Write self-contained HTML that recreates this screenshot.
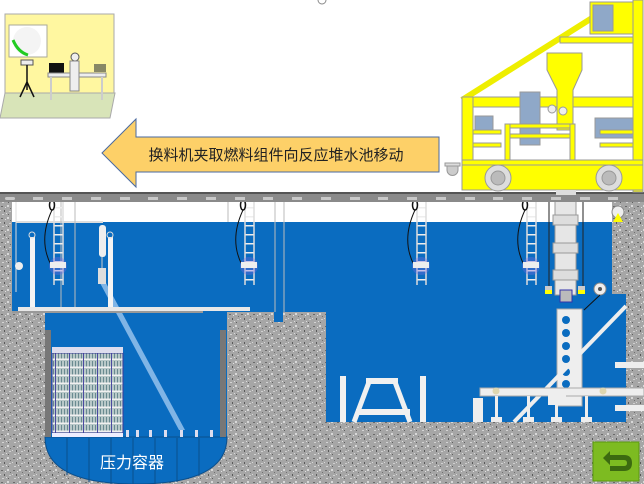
<!DOCTYPE html>
<html><head><meta charset="utf-8"><style>
html,body{margin:0;padding:0;background:#fff;width:644px;height:484px;overflow:hidden}
svg{display:block}
text{font-family:"Liberation Sans","Noto Sans CJK SC",sans-serif}
</style></head><body>
<svg width="644" height="484" viewBox="0 0 644 484" xmlns="http://www.w3.org/2000/svg">
<defs>
<pattern id="conc" width="12" height="12" patternUnits="userSpaceOnUse">
<rect width="12" height="12" fill="#a6a6a6"/>
<rect x="1" y="2" width="2" height="1" fill="#6a6a6a"/><rect x="7" y="1" width="2" height="2" fill="#d8d8d8"/>
<rect x="4" y="6" width="1" height="2" fill="#5a5a5a"/><rect x="9" y="7" width="2" height="1" fill="#cfcfcf"/>
<rect x="2" y="10" width="2" height="1" fill="#d4d4d4"/><rect x="8" y="10" width="1" height="1" fill="#606060"/>
<rect x="5" y="3" width="1" height="1" fill="#e0e0e0"/><rect x="0" y="6" width="1" height="1" fill="#d8d8d8"/>
<rect x="10" y="4" width="1" height="1" fill="#707070"/><rect x="6" y="9" width="1" height="1" fill="#dcdcdc"/>
</pattern>
<pattern id="rungs" width="8" height="9" patternUnits="userSpaceOnUse"><rect width="8" height="9" fill="none"/><rect y="0" width="8" height="1.5" fill="#eee"/></pattern>
<pattern id="fuel" width="14" height="8" patternUnits="userSpaceOnUse"><rect width="14" height="8" fill="#b8c8c8"/><rect x="2" y="1" width="1" height="6" fill="#6a8a90"/><rect x="5" y="1" width="1" height="6" fill="#6a8a90"/><rect x="8" y="1" width="1" height="6" fill="#6a8a90"/><rect x="11" y="1" width="1" height="6" fill="#6a8a90"/><rect y="6.5" width="14" height="1.5" fill="#f0f0f0"/><rect x="13" width="1" height="8" fill="#4a4aa0"/></pattern>
</defs>
<!-- concrete -->
<rect x="0" y="195" width="644" height="289" fill="url(#conc)"/>
<!-- air gap -->
<rect x="12" y="202" width="600" height="21" fill="#fff"/>
<!-- water -->
<path d="M12 222 H612 V294 H626 V422 H326 V312 H283 V322 H274 V312 H12 Z" fill="#0a6cc0"/>
<path d="M45 310 H227 V437 Q227 484 136 484 Q45 484 45 437 Z" fill="#0a6cc0"/>
<path d="M45 437 H227 Q227 484 136 484 Q45 484 45 437 Z" fill="#0a6cc0" stroke="#0b4f8c" stroke-width="1"/>
<g stroke="#0b4f8c" stroke-width="1"><line x1="67" y1="438" x2="67" y2="475"/><line x1="89" y1="438" x2="89" y2="482"/><line x1="111" y1="438" x2="111" y2="484"/><line x1="133" y1="438" x2="133" y2="484"/><line x1="155" y1="438" x2="155" y2="484"/><line x1="177" y1="438" x2="177" y2="482"/><line x1="199" y1="438" x2="199" y2="476"/></g>
<rect x="45" y="330" width="6" height="107" fill="#777"/>
<rect x="220" y="330" width="6" height="107" fill="#777"/>
<!-- core -->
<rect x="52" y="353" width="71" height="80" fill="url(#fuel)" stroke="#3a3a9a"/>
<rect x="52" y="347" width="71" height="6" fill="#dde"/>
<rect x="52" y="433" width="71" height="4" fill="#eef"/>
<g fill="#dde"><rect x="126" y="430" width="3" height="7"/><rect x="136" y="430" width="3" height="7"/><rect x="149" y="430" width="3" height="7"/><rect x="164" y="430" width="3" height="7"/><rect x="180" y="430" width="3" height="7"/><rect x="195" y="430" width="3" height="7"/><rect x="210" y="430" width="3" height="7"/></g>
<text x="132" y="468" font-size="16" fill="#fff" text-anchor="middle">压力容器</text>
<!-- beam -->
<polygon points="100,283 106,283 185,430 179,430" fill="#cfe6ff" opacity="0.6"/>
<!-- ledge -->
<rect x="18" y="307" width="232" height="4" fill="#e8e8e8"/>
<rect x="12" y="311" width="191" height="2" fill="#999"/>
<!-- posts left -->
<rect x="30" y="237" width="5" height="70" fill="#f4f4f4"/><circle cx="32" cy="235" r="3" fill="none" stroke="#ddd"/>
<rect x="108" y="237" width="5" height="70" fill="#f4f4f4"/><circle cx="110" cy="235" r="3" fill="none" stroke="#ddd"/>
<line x1="16" y1="202" x2="16" y2="292" stroke="#ddd"/><circle cx="19" cy="266" r="4" fill="#eee"/>
<line x1="16" y1="222" x2="103" y2="222" stroke="#ddd" stroke-width="2"/>
<rect x="99" y="225" width="7" height="32" rx="3" fill="#eee"/>
<line x1="102" y1="257" x2="102" y2="268" stroke="#ccc"/>
<rect x="98" y="268" width="8" height="16" fill="#ddd"/>
<g stroke="#bbb" stroke-width="1"><line x1="75" y1="202" x2="75" y2="307"/><line x1="61" y1="202" x2="61" y2="307"/><line x1="228" y1="202" x2="228" y2="222"/><line x1="275" y1="202" x2="275" y2="312"/><line x1="284" y1="202" x2="284" y2="312"/></g>
<!-- ladders & lamps -->
<g id="lad">
<rect x="54" y="202" width="9" height="83" fill="url(#rungs)"/>
<line x1="54" y1="202" x2="54" y2="285" stroke="#ddd" stroke-width="1.5"/><line x1="63" y1="202" x2="63" y2="285" stroke="#ddd" stroke-width="1.5"/>
<ellipse cx="52" cy="205" rx="2.5" ry="5" fill="none" stroke="#111" stroke-width="1.5"/>
<path d="M52 210 Q38 240 51 265" fill="none" stroke="#111"/>
<circle cx="58" cy="266" r="9" fill="#7a6ae0" opacity="0.35"/>
<rect x="50" y="262" width="16" height="6" fill="#eee"/>
</g>
<use href="#lad" x="191"/><use href="#lad" x="363"/><use href="#lad" x="473"/>
<!-- mast -->
<rect x="555" y="195" width="21" height="100" fill="#e6e6e6" stroke="#999"/>
<g fill="#ddd" stroke="#999"><rect x="553" y="215" width="25" height="10"/><rect x="553" y="243" width="25" height="10"/><rect x="553" y="270" width="25" height="10"/></g>
<line x1="549" y1="200" x2="549" y2="286" stroke="#222"/><line x1="583" y1="200" x2="583" y2="286" stroke="#222"/>
<rect x="545" y="286" width="7" height="4" fill="#ccc"/><rect x="545" y="290" width="7" height="4" fill="#ff0"/>
<rect x="578" y="286" width="7" height="4" fill="#ccc"/><rect x="578" y="290" width="7" height="4" fill="#ff0"/>
<rect x="560" y="290" width="12" height="12" fill="#bbb" stroke="#33a"/>
<circle cx="618" cy="212" r="6" fill="#eee" stroke="#888"/><polygon points="613,222 623,222 618,213" fill="#ff0"/>
<circle cx="600" cy="289" r="6" fill="#eee" stroke="#888"/><circle cx="600" cy="289" r="2" fill="#555"/>
<line x1="600" y1="295" x2="584" y2="310" stroke="#111"/>
<!-- right structures -->
<rect x="557" y="309" width="25" height="97" fill="#eee" stroke="#aaa"/>
<g fill="#0a6cc0"><circle cx="566" cy="320" r="4"/><circle cx="566" cy="333" r="4"/><circle cx="566" cy="346" r="4"/><circle cx="566" cy="359" r="4"/><circle cx="566" cy="372" r="4"/><circle cx="566" cy="384" r="4"/></g>
<line x1="514" y1="422" x2="626" y2="306" stroke="#eee" stroke-width="4"/>
<rect x="480" y="388" width="164" height="8" fill="#eee" stroke="#aaa"/>
<rect x="615" y="362" width="29" height="6" fill="#eee"/><rect x="615" y="405" width="29" height="6" fill="#eee"/>
<rect x="548" y="393" width="18" height="12" fill="#eee"/>
<g fill="#eee"><rect x="473" y="398" width="10" height="24"/><rect x="495" y="396" width="3" height="22"/><rect x="527" y="396" width="3" height="22"/><rect x="555" y="396" width="3" height="22"/><rect x="585" y="396" width="3" height="22"/>
<rect x="491" y="417" width="11" height="5"/><rect x="523" y="417" width="11" height="5"/><rect x="551" y="417" width="11" height="5"/><rect x="581" y="417" width="11" height="5"/></g>
<circle cx="496" cy="391" r="3.5" fill="#ddd6b0"/><circle cx="603" cy="391" r="3.5" fill="#ddd6b0"/>
<!-- A frame -->
<g fill="#f0f0f0"><rect x="340" y="376" width="6" height="46"/><rect x="420" y="376" width="6" height="46"/><rect x="366" y="378" width="32" height="6"/><rect x="356" y="409" width="54" height="6"/></g>
<g stroke="#f0f0f0" stroke-width="5"><line x1="369" y1="382" x2="354" y2="422"/><line x1="395" y1="382" x2="410" y2="422"/></g>
<!-- rail -->
<rect x="0" y="193" width="644" height="9" fill="#8a8a8a"/>
<rect x="0" y="192" width="644" height="2" fill="#555"/>
<g fill="#c8c8c8"><rect x="5" y="197" width="10" height="3" rx="1.5"/><rect x="33" y="197" width="10" height="3"/><rect x="62" y="197" width="10" height="3"/><rect x="91" y="197" width="10" height="3"/><rect x="120" y="197" width="10" height="3"/><rect x="148" y="197" width="10" height="3"/><rect x="177" y="197" width="10" height="3"/><rect x="206" y="197" width="10" height="3"/><rect x="235" y="197" width="10" height="3"/><rect x="263" y="197" width="10" height="3"/><rect x="292" y="197" width="10" height="3"/><rect x="321" y="197" width="10" height="3"/><rect x="350" y="197" width="10" height="3"/><rect x="378" y="197" width="10" height="3"/><rect x="407" y="197" width="10" height="3"/><rect x="436" y="197" width="10" height="3"/><rect x="465" y="197" width="10" height="3"/><rect x="493" y="197" width="10" height="3"/><rect x="522" y="197" width="10" height="3"/><rect x="551" y="197" width="10" height="3"/><rect x="580" y="197" width="10" height="3"/><rect x="608" y="197" width="10" height="3"/></g>
<!-- green button -->
<rect x="593" y="442" width="46" height="39" fill="#7dbb21" stroke="#5a9a10"/>
<path d="M603 458 L610 451 L610 455 H624 Q632 455 632 463 Q632 471 624 471 H610 V466 H624 Q627 466 627 463 Q627 460 624 460 H610 V465 Z" fill="#3c6a10"/>
<!-- arrow -->
<polygon points="102,153 136,119 136,137 439,137 439,172 136,172 136,187" fill="#fdd068" stroke="#4a6aa0" stroke-width="1"/>
<text x="276" y="160" font-size="15" fill="#222" text-anchor="middle">换料机夹取燃料组件向反应堆水池移动</text>
<!-- control room -->
<polygon points="0,118 5,93 115,93 110,118" fill="#d8e4b8" stroke="#aaa"/>
<rect x="5" y="14" width="109" height="79" fill="#fff7a0" stroke="#aaa"/>
<rect x="9" y="25" width="38" height="32" fill="#fff" stroke="#aa9"/>
<circle cx="27" cy="41" r="14" fill="#f4f4f4"/>
<path d="M13 40 Q18 52 28 55" stroke="#22cc22" stroke-width="3" fill="none"/>
<rect x="21" y="60" width="12" height="5" fill="#eee" stroke="#555"/>
<g stroke="#111" stroke-width="1.5"><line x1="27" y1="65" x2="27" y2="90"/><line x1="27" y1="82" x2="20" y2="97"/><line x1="27" y1="82" x2="34" y2="97"/></g>
<rect x="49" y="63" width="15" height="10" fill="#111"/>
<rect x="48" y="73" width="58" height="4" fill="#eee" stroke="#888"/>
<line x1="51" y1="77" x2="51" y2="100" stroke="#ccc" stroke-width="2"/><line x1="102" y1="77" x2="102" y2="100" stroke="#ccc" stroke-width="2"/>
<circle cx="75" cy="57" r="4" fill="#eee" stroke="#555"/>
<rect x="70" y="61" width="9" height="30" fill="#eee" stroke="#888"/>
<rect x="94" y="64" width="12" height="8" fill="#886"/>
<circle cx="322" cy="0" r="4" fill="none" stroke="#888"/>
<!-- machine -->
<g stroke="#999" stroke-width="1">
<line x1="462" y1="100" x2="592" y2="18" stroke="#ee0" stroke-width="6"/>
<rect x="590" y="2" width="50" height="32" fill="#ff0"/>
<rect x="593" y="5" width="20" height="26" fill="#8fa8c8"/>
<rect x="560" y="37" width="75" height="6" fill="#ff0"/>
<rect x="633" y="0" width="10" height="192" fill="#ff0"/>
<rect x="462" y="97" width="171" height="10" fill="#ff0"/>
<rect x="462" y="97" width="11" height="93" fill="#ff0"/>
<rect x="520" y="92" width="20" height="53" fill="#8fa8c8"/>
<rect x="475" y="116" width="18" height="15" fill="#8fa8c8"/>
<rect x="595" y="118" width="38" height="20" fill="#8fa8c8"/>
<polygon points="547,53 582,53 582,70 573,90 573,130 557,130 557,90 547,70" fill="#ff0"/>
<circle cx="552" cy="109" r="4" fill="#eee"/><circle cx="563" cy="111" r="4" fill="#eee"/>
<rect x="510" y="124" width="60" height="4" fill="#ff0"/><rect x="510" y="134" width="60" height="4" fill="#ff0"/>
<rect x="505" y="124" width="5" height="36" fill="#ff0"/><rect x="570" y="124" width="5" height="36" fill="#ff0"/>
<rect x="473" y="130" width="28" height="4" fill="#ff0"/><rect x="473" y="143" width="28" height="4" fill="#ff0"/>
<rect x="600" y="130" width="33" height="4" fill="#ff0"/><rect x="600" y="143" width="33" height="4" fill="#ff0"/>
<rect x="462" y="160" width="181" height="30" fill="#ff0"/>
<line x1="462" y1="165" x2="643" y2="165"/>
<circle cx="498" cy="178" r="13" fill="#ddd"/><circle cx="498" cy="178" r="7" fill="#bbb"/>
<circle cx="609" cy="178" r="13" fill="#ddd"/><circle cx="609" cy="178" r="7" fill="#bbb"/>
<rect x="445" y="163" width="15" height="3" fill="#ddd"/>
<path d="M447 166 h11 v4 a5 5 0 0 1 -11 0 z" fill="#ccc"/>
</g>
<rect x="556" y="190" width="20" height="5" fill="#ddd"/>
</svg>
</body></html>
